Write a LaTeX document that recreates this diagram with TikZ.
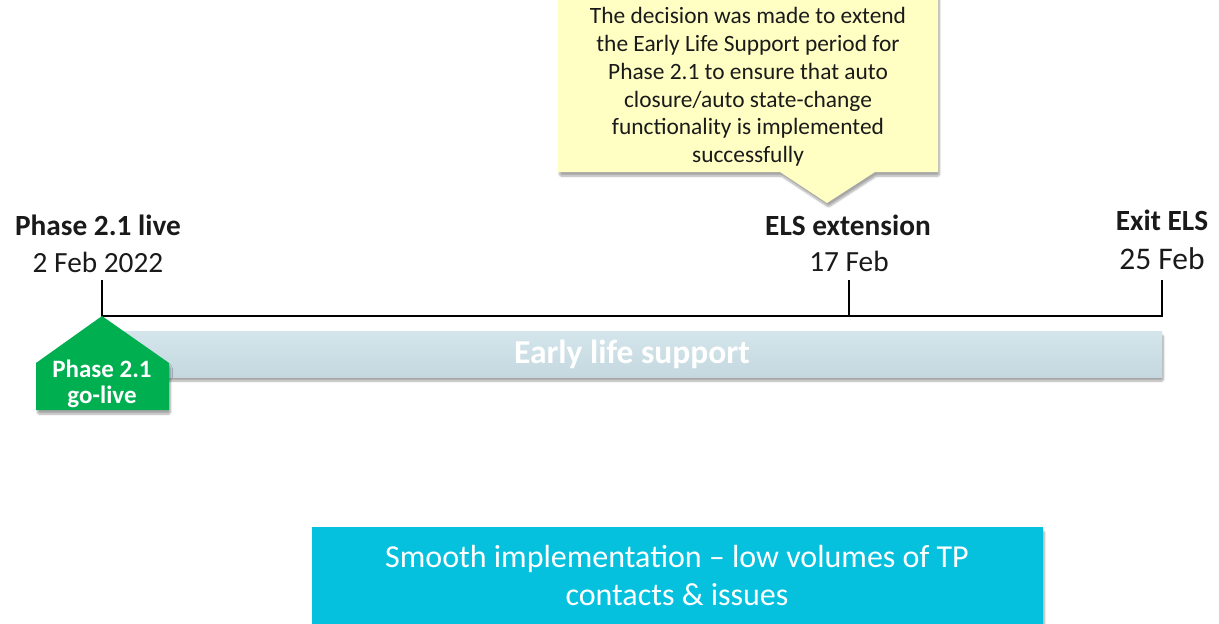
\documentclass[tikz,border=0pt]{standalone}
\usepackage{fontspec}
\setmainfont{Carlito}
\usetikzlibrary{shadows,shadows.blur}
\definecolor{calloutfill}{HTML}{FFFFC4}
\definecolor{barfill}{HTML}{C5D8DF}
\definecolor{bartop}{HTML}{D4E6EC}
\definecolor{golive}{HTML}{00B050}
\definecolor{cyanbox}{HTML}{06C1DE}
\definecolor{txt}{HTML}{1A1A1A}
\tikzset{
  tl/.style={line width=1.8pt, black},
  mlabel/.style={font=\fontsize{29.3}{32}\selectfont\bfseries, text=txt, anchor=center, inner sep=0pt},
  dlabel/.style={font=\fontsize{29.3}{32}\selectfont, text=txt, anchor=center, inner sep=0pt},
  softshadow/.style={blur shadow={shadow xshift=1.5pt, shadow yshift=-4pt, shadow blur steps=8, shadow blur extra rounding=1.5pt, shadow opacity=35}},
}
\begin{document}
\begin{tikzpicture}[x=1pt,y=-1pt]
\useasboundingbox (0,0) rectangle (1219,624);
% callout
\fill[calloutfill, softshadow] (558,-5) -- (938,-5) -- (938,172) -- (875,172) -- (827,203) -- (780,172) -- (558,172) -- cycle;
\node[align=center, font=\fontsize{23.4}{27.8}\selectfont, text=txt, inner sep=0pt] (callout) at (748,87)
  {The decision was made to extend\\the Early Life Support period for\\Phase 2.1 to ensure that auto\\closure/auto state-change\\functionality is implemented\\successfully};
% bar
\shade[top color=bartop, bottom color=barfill, softshadow] (102,331) rectangle (1162,377);
\node[font=\fontsize{33.5}{36}\selectfont\bfseries, text=white, inner sep=0pt] (els) at (632,354) {Early life support};
% timeline
\coordinate (t1) at (102,316);
\coordinate (t2) at (849,316);
\coordinate (t3) at (1162,316);
\coordinate (t1top) at (102,280);
\coordinate (t2top) at (849,280);
\coordinate (t3top) at (1162,280);
\draw[tl] (t1top) -- (t1) -- (t3) -- (t3top);
\draw[tl] (t2top) -- (t2);
% labels
\node[mlabel] (l1) at (98,225) {Phase 2.1 live};
\node[dlabel] (d1) at (98,262) {2 Feb 2022};
\node[mlabel] (l2) at (848,225) {ELS extension};
\node[dlabel] (d2) at (849,261) {17 Feb};
\node[mlabel] (l3) at (1162,220) {Exit ELS};
\node[dlabel, font=\fontsize{31.5}{34}\selectfont] (d3) at (1162,259) {25 Feb};
% green pentagon
\fill[golive, softshadow] (102,316) -- (169,363) -- (169,410) -- (36,410) -- (36,363) -- cycle;
\node[align=center, text=white, font=\fontsize{25}{26}\selectfont\bfseries, inner sep=0pt] (gl) at (102,384) {Phase 2.1\\go-live};
% bottom box
\fill[cyanbox, softshadow] (312,527) rectangle (1043,630);
\node[align=center, text=white, font=\fontsize{32}{38}\selectfont, inner sep=0pt] (smooth) at (677,576)
  {Smooth implementation -- low volumes of TP\\contacts \& issues};
\end{tikzpicture}
\end{document}
